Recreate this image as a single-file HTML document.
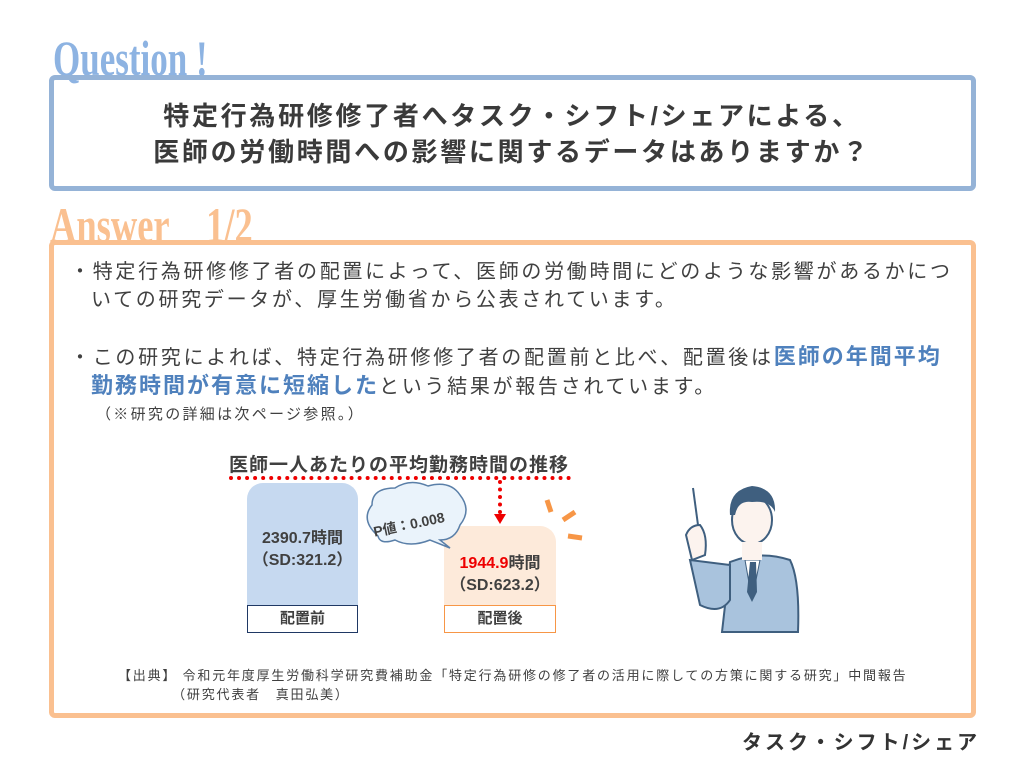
<!DOCTYPE html>
<html><head><meta charset="utf-8"><style>
body{margin:0;width:1024px;height:768px;background:#fff;position:relative;overflow:hidden;font-family:"Liberation Sans","Noto Sans CJK JP",sans-serif;color:#404040}
.a{position:absolute;white-space:nowrap}
.ttl{font-family:"Liberation Serif",serif;font-weight:bold;transform:scaleX(.7);transform-origin:left top;font-size:50px;line-height:50px}
.box{position:absolute;border-radius:6px}
.bt{font-size:20px;line-height:28px;letter-spacing:2.7px}
</style></head><body>
<div class="a ttl" style="left:53px;top:33px;color:#8db3e2">Question !</div>
<div class="box" style="left:49px;top:75px;width:917px;height:106px;border:5px solid #95b3d7"></div>
<div class="a" style="left:0;width:1024px;text-align:center;top:98px;font-size:26px;line-height:36px;font-weight:bold;color:#3a3a3a;letter-spacing:2.7px">特定行為研修修了者へタスク・シフト/シェアによる、<br>医師の労働時間への影響に関するデータはありますか？</div>
<div class="a ttl" style="left:50px;top:200px;color:#fac090;transform:scaleX(.73)">Answer&nbsp;&nbsp;&nbsp;&nbsp;1/2</div>
<div class="box" style="left:49px;top:240px;width:917px;height:468px;border:5px solid #fac090"></div>
<div class="a bt" style="left:70px;top:258px">・特定行為研修修了者の配置によって、医師の労働時間にどのような影響があるかにつ<br><span style="padding-left:21px"></span>いての研究データが、厚生労働省から公表されています。</div>
<div class="a bt" style="left:70px;top:343px">・この研究によれば、特定行為研修修了者の配置前と比べ、配置後は<b style="color:#4f81bd;font-size:22px;letter-spacing:2px">医師の年間平均</b><br><span style="padding-left:21px"></span><b style="color:#4f81bd;font-size:22px;letter-spacing:2px">勤務時間が有意に短縮した</b>という結果が報告されています。</div>
<div class="a" style="left:96px;top:403px;font-size:15px;letter-spacing:2.3px">（※研究の詳細は次ページ参照。）</div>
<div class="a" style="left:229px;top:450px;font-size:19px;font-weight:bold;letter-spacing:1px">医師一人あたりの平均勤務時間の推移</div>
<div class="a" style="left:229px;top:476px;width:342px;border-top:4px dotted #e00"></div>
<div class="a" style="left:498px;top:480px;height:34px;border-left:4px dotted #e00"></div>
<div class="a" style="left:494px;top:514px;border-left:6px solid transparent;border-right:6px solid transparent;border-top:10px solid #e00"></div>
<div class="a" style="left:247px;top:483px;width:111px;height:122px;background:#c6d9f0;border-radius:16px 16px 0 0"></div>
<div class="a" style="left:247px;top:528px;width:111px;text-align:center;font-size:16px;line-height:22px;font-weight:bold">2390.7時間<br>（SD:321.2）</div>
<div class="a" style="left:247px;top:605px;width:109px;height:26px;border:1px solid #1f3864;text-align:center;font-size:15px;line-height:26px;font-weight:bold">配置前</div>
<div class="a" style="left:444px;top:526px;width:112px;height:79px;background:#fdeada;border-radius:16px 16px 0 0"></div>
<div class="a" style="left:444px;top:553px;width:112px;text-align:center;font-size:16px;line-height:22px;font-weight:bold"><span style="color:#e00">1944.9</span>時間<br>（SD:623.2）</div>
<div class="a" style="left:444px;top:605px;width:110px;height:26px;border:1px solid #f79646;text-align:center;font-size:15px;line-height:26px;font-weight:bold">配置後</div>
<svg class="a" style="left:0;top:0" width="1024" height="768">
<path d="M378 536 Q360 520 372 505 Q372 488 395 488 Q410 478 428 486 Q450 480 460 495 Q472 510 460 525 Q455 540 440 540 L450 548 L430 540 Q410 548 395 540 Q380 545 378 536Z" fill="#eaf3fb" stroke="#5a7fa8" stroke-width="1.5"/>
<text x="372" y="528" font-size="14" font-weight="bold" fill="#404040" transform="rotate(-12 415 520)" font-family="Liberation Sans,Noto Sans CJK JP,sans-serif">P値：0.008</text>
<g stroke="#f79646" stroke-width="5"><line x1="547" y1="500" x2="551" y2="512"/><line x1="563" y1="520" x2="575" y2="512"/><line x1="568" y1="536" x2="582" y2="538"/></g>
<line x1="693" y1="488" x2="698" y2="525" stroke="#3f5f7f" stroke-width="2"/>
<path d="M722 632 L730 562 Q760 550 790 560 Q800 580 798 632Z" fill="#a9c3dd" stroke="#3f5f7f" stroke-width="2"/>
<path d="M690 560 L700 605 Q720 615 730 600 L730 565Z" fill="#a9c3dd" stroke="#3f5f7f" stroke-width="2"/>
<path d="M686 535 Q690 525 700 525 Q708 535 705 555 L692 560Z" fill="#fcf3ee" stroke="#3f5f7f" stroke-width="2"/>
<path d="M745 560 L760 560 L752 600Z" fill="#fff" stroke="#3f5f7f"/>
<path d="M750 562 L756 562 L757 592 L752 602 L747 592Z" fill="#3f5f7f"/>
<ellipse cx="752" cy="520" rx="20" ry="24" fill="#fcf3ee" stroke="#3f5f7f" stroke-width="2"/>
<path d="M730 515 Q728 490 752 486 Q776 488 775 512 Q770 500 752 502 Q738 500 735 515Z" fill="#3f5f7f"/>
<rect x="742" y="542" width="20" height="18" fill="#fcf3ee"/>
</svg>
<div class="a" style="left:118px;top:666px;font-size:13px;line-height:19px;letter-spacing:1.8px">【出典】 令和元年度厚生労働科学研究費補助金「特定行為研修の修了者の活用に際しての方策に関する研究」中間報告<br>&nbsp;&nbsp;&nbsp;&nbsp;&nbsp;&nbsp;&nbsp;&nbsp;&nbsp;&nbsp;（研究代表者　真田弘美）</div>
<div class="a" style="left:742px;top:726px;font-size:20px;font-weight:bold;color:#333;letter-spacing:3px">タスク・シフト/シェア</div>
</body></html>
